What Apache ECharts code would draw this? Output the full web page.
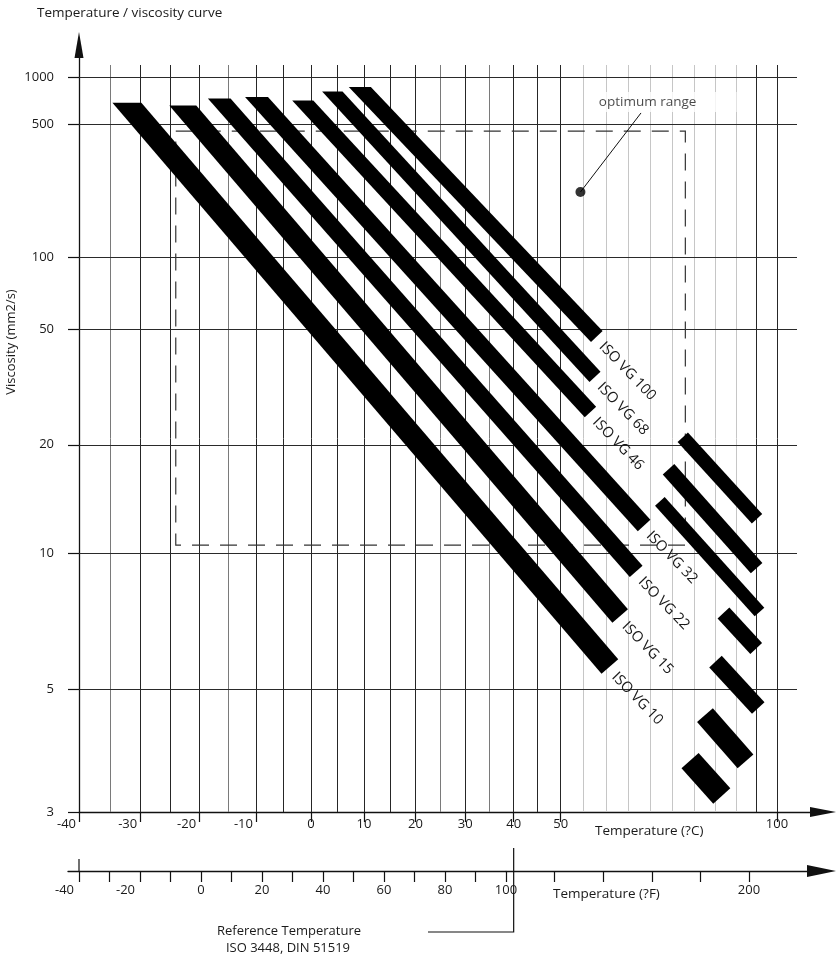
<!DOCTYPE html>
<html>
<head>
<meta charset="utf-8">
<title>Temperature / viscosity curve</title>
<script src="https://cdn.jsdelivr.net/npm/echarts@6.0.0/dist/echarts.min.js"></script>
<style>
  html, body { margin: 0; padding: 0; background: #fff; }
  #chart { width: 836px; height: 956px; }
</style>
</head>
<body>
<div id="chart"></div>
<script>
// ---- data ----
var grades = ['ISO VG 10', 'ISO VG 15', 'ISO VG 22', 'ISO VG 32', 'ISO VG 46', 'ISO VG 68', 'ISO VG 100'];

// long part of every line: temperature (C) and viscosity (mm2/s) at both ends
var mainStartT = [-32.2, -22.8, -16.5, -9.9, -1.5, 4.0, 9.2];
var mainStartV = [680, 652, 723, 739, 702, 802, 858];
var mainEndT = [60.8, 63.1, 66.7, 68.5, 56.5, 57.5, 57.9];
var mainEndV = [5.55, 7.12, 9.04, 11.8, 25.4, 33.4, 47.0];

// short pieces on the hot side, right of the labels
var hotStartT = [79.1, 82.6, 85.1, 87.0, 72.1, 74.1, 77.4];
var hotStartV = [3.67, 4.45, 5.68, 7.23, 13.7, 16.9, 21.1];
var hotEndT = [86.6, 92.3, 95.4, 94.9, 95.7, 95.0, 95.1];
var hotEndV = [3.19, 3.66, 4.59, 6.05, 7.27, 9.21, 12.3];

// optimum range box
var optTemp = [-24, 78];
var optVisc = [10.5, 455];
var optDot = [54.3, 208];

// axes
var viscTicks = [3, 5, 10, 20, 50, 100, 500, 1000];
var celsiusLabels = [-40, -30, -20, -10, 0, 10, 20, 30, 40, 50, 100];
var celsiusGrid = [-35, -30, -25, -20, -15, -10, -5, 0, 5, 10, 15, 20, 25, 30, 35, 40, 45, 50,
  55, 60, 65, 70, 75, 80, 85, 90, 95, 100];
var fahrLowTicks = [-40, -30, -20, -10, 0, 10, 20, 30, 40, 50, 60, 70, 80, 90, 100];
var fahrLowLabels = [-40, -20, 0, 20, 40, 60, 80, 100];
var fahrHighTicks = [120, 140, 160, 180, 200];
var fahrHighLabels = [200];
var refTemp = 40;

// ---- scales: log temperature on x, log-log viscosity on y ----
function tx(c) { return Math.log10(c + 300); }
function tc(x) { return Math.pow(10, x) - 300; }
function wv(v) { return Math.log10(Math.log10(v + 0.8)); }
function vw(w) { return Math.pow(10, Math.pow(10, w)) - 0.8; }

// ---- layout / style ----
var FONT = "'Open Sans', 'DejaVu Sans', sans-serif";
var INK = '#1a1a1a';
var TICK_FONT = 13;
var X0 = tx(-40), X1 = tx(100), XPX = (X1 - X0) / 698;
var Y0 = wv(3), Y1 = wv(1000), YPX = (Y1 - Y0) / 735;
var BAND_PX = [22, 20.5, 17, 17, 15.5, 15, 16];
var HOT_PX = [23, 21, 17, 16, 13, 15.5, 14];
var LABEL_GAP = 9;
var OPT_LINE_END = [67.8, 586];
var OPT_LABEL_AT = [69.3, 677];

function gridColor(t) {
  if (t > 50 && t < 95) return '#c6c6c6';
  if (t === -35 || t === -15 || t === 25 || t === 35) return '#7a7a7a';
  return '#262626';
}

var gridLines = [];
celsiusGrid.forEach(function (t) {
  gridLines.push({coords: [[tx(t), Y0], [tx(t), Y1 + 12 * YPX]], lineStyle: {color: gridColor(t)}});
});
viscTicks.slice(1).forEach(function (v) {
  gridLines.push({coords: [[X0, wv(v)], [X1 + 20 * XPX, wv(v)]], lineStyle: {color: '#2a2a2a'}});
});

var bandData = [];
grades.forEach(function (name, i) {
  bandData.push([tx(mainStartT[i]), wv(mainStartV[i]), tx(mainEndT[i]), wv(mainEndV[i]), i, 0]);
  bandData.push([tx(hotStartT[i]), wv(hotStartV[i]), tx(hotEndT[i]), wv(hotEndV[i]), i, 1]);
});

var optBox = [
  [tx(optTemp[0]), wv(optVisc[1])], [tx(optTemp[1]), wv(optVisc[1])],
  [tx(optTemp[1]), wv(optVisc[0])], [tx(optTemp[0]), wv(optVisc[0])],
  [tx(optTemp[0]), wv(optVisc[1])]
];

function renderBand(params, api) {
  var s = api.coord([api.value(0), api.value(1)]);
  var e = api.coord([api.value(2), api.value(3)]);
  var g = api.value(4), kind = api.value(5);
  var dx = e[0] - s[0], dy = e[1] - s[1];
  var len = Math.sqrt(dx * dx + dy * dy);
  var ux = dx / len, uy = dy / len;
  var hw = (kind === 0 ? BAND_PX[g] : HOT_PX[g]) / 2;
  var nx = -uy * hw, ny = ux * hw;
  var pts;
  if (kind === 0) {
    var hx = hw / uy; // cold end is cut level
    pts = [[s[0] - hx, s[1]], [s[0] + hx, s[1]], [e[0] - nx, e[1] - ny], [e[0] + nx, e[1] + ny]];
  } else {
    pts = [[s[0] + nx, s[1] + ny], [s[0] - nx, s[1] - ny], [e[0] - nx, e[1] - ny], [e[0] + nx, e[1] + ny]];
  }
  var children = [{type: 'polygon', shape: {points: pts}, style: {fill: '#000'}}];
  if (kind === 0) {
    children.push({
      type: 'text',
      x: e[0] + ux * LABEL_GAP - uy * 2,
      y: e[1] + uy * LABEL_GAP + ux * 2,
      rotation: -46 * Math.PI / 180,
      style: {
        text: grades[g], fill: INK, fontSize: 14.5, fontFamily: FONT,
        align: 'left', verticalAlign: 'middle'
      }
    });
  }
  return {type: 'group', children: children};
}

function negRich(pad) {
  return {neg: {padding: [0, pad, 0, 0], fontSize: TICK_FONT, fontFamily: FONT, color: INK}};
}

var option = {
  animation: false,
  backgroundColor: '#fff',
  grid: [
    {left: 79, right: 26, top: 58, bottom: 144, outerBoundsMode: 'none'},
    {left: 68, right: 330, top: 859, bottom: 85, outerBoundsMode: 'none'},
    {left: 506, right: 29, top: 859, bottom: 85, outerBoundsMode: 'none'}
  ],
  xAxis: [
    {
      type: 'value', gridIndex: 0, position: 'bottom', min: X0, max: X1 + 33 * XPX,
      axisLine: {show: true, onZero: false, lineStyle: {color: '#111', width: 1.3},
        symbol: ['none', 'triangle'], symbolSize: [10, 26], symbolOffset: [0, 13]},
      axisTick: {show: true, length: 10, customValues: celsiusLabels.map(tx),
        lineStyle: {color: '#111', width: 1.2}},
      axisLabel: {
        show: true, margin: 6, customValues: celsiusLabels.map(tx),
        fontSize: TICK_FONT, fontFamily: FONT, color: INK,
        formatter: function (val) {
          var t = Math.round(tc(val));
          return t < 0 ? '{neg|' + t + '}' : String(t);
        },
        rich: negRich(25)
      },
      splitLine: {show: false}
    },
    {
      type: 'value', gridIndex: 1, position: 'bottom', min: -40 - 110 / 30.5, max: 100,
      axisLine: {show: true, onZero: false, lineStyle: {color: '#111', width: 1.3}},
      axisTick: {show: true, length: 11, customValues: fahrLowTicks,
        lineStyle: {color: '#111', width: 1.2}},
      axisLabel: {
        show: true, margin: 13, customValues: fahrLowLabels,
        fontSize: TICK_FONT, fontFamily: FONT, color: INK,
        formatter: function (val) {
          var f = Math.round(val);
          return f < 0 ? '{neg|' + f + '}' : String(f);
        },
        rich: negRich(29)
      },
      splitLine: {show: false}
    },
    {
      type: 'value', gridIndex: 2, position: 'bottom', min: 100, max: 100 + 301 / 2.43,
      axisLine: {show: true, onZero: false, lineStyle: {color: '#111', width: 1.3},
        symbol: ['none', 'triangle'], symbolSize: [12, 29], symbolOffset: [0, 14.5]},
      axisTick: {show: true, length: 11, customValues: fahrHighTicks,
        lineStyle: {color: '#111', width: 1.2}},
      axisLabel: {
        show: true, margin: 13, customValues: fahrHighLabels,
        fontSize: TICK_FONT, fontFamily: FONT, color: INK
      },
      splitLine: {show: false}
    }
  ],
  yAxis: [
    {
      type: 'value', gridIndex: 0, position: 'left', min: Y0, max: Y1 + 19 * YPX,
      axisLine: {show: true, onZero: false, lineStyle: {color: '#111', width: 1.3},
        symbol: ['none', 'triangle'], symbolSize: [9, 26], symbolOffset: [0, 13]},
      axisTick: {show: true, length: 11, customValues: viscTicks.map(wv),
        lineStyle: {color: '#111', width: 1.2}},
      axisLabel: {
        show: true, margin: 25, customValues: viscTicks.map(wv),
        fontSize: TICK_FONT, fontFamily: FONT, color: INK,
        formatter: function (val) { return String(Math.round(vw(val))); }
      },
      splitLine: {show: false}
    },
    {type: 'value', gridIndex: 1, show: false, min: 0, max: 1},
    {type: 'value', gridIndex: 2, show: false, min: 0, max: 1}
  ],
  series: [
    {
      name: 'grid', type: 'lines', coordinateSystem: 'cartesian2d', silent: true, z: 1,
      lineStyle: {width: 1, opacity: 1},
      data: gridLines
    },
    {
      name: 'optimum', type: 'lines', coordinateSystem: 'cartesian2d', polyline: true, silent: true, z: 2,
      lineStyle: {color: '#333', width: 1.2, opacity: 1, type: [17, 11]},
      data: [{coords: optBox}]
    },
    {
      name: 'bands', type: 'custom', coordinateSystem: 'cartesian2d', z: 3,
      renderItem: renderBand,
      encode: {x: [0, 2], y: [1, 3]},
      data: bandData
    },
    {
      name: 'callout', type: 'lines', coordinateSystem: 'cartesian2d', silent: true, z: 4,
      lineStyle: {color: '#111', width: 1, opacity: 1},
      data: [{coords: [[tx(optDot[0]), wv(optDot[1])], [tx(OPT_LINE_END[0]), wv(OPT_LINE_END[1])]]}]
    },
    {
      name: 'dot', type: 'scatter', coordinateSystem: 'cartesian2d', silent: true, z: 5,
      symbol: 'circle', symbolSize: 10, itemStyle: {color: '#000'},
      data: [[tx(optDot[0]), wv(optDot[1])]]
    },
    {
      name: 'optLabel', type: 'scatter', coordinateSystem: 'cartesian2d', silent: true, z: 5,
      symbol: 'rect', symbolSize: [144, 20], symbolOffset: [17, -1],
      itemStyle: {color: '#fff'},
      label: {show: true, position: 'inside', offset: [-17, 0], formatter: 'optimum range',
        fontSize: 13.5, fontFamily: FONT, color: INK},
      data: [[tx(OPT_LABEL_AT[0]), wv(OPT_LABEL_AT[1])]]
    }
  ],
  graphic: [
    {id: 'title', type: 'text', x: 37, y: 13,
      style: {text: 'Temperature / viscosity curve', fill: INK, fontSize: 13.5, fontFamily: FONT,
        align: 'left', verticalAlign: 'middle'}},
    {id: 'yname', type: 'text', x: 11, y: 342, rotation: Math.PI / 2,
      style: {text: 'Viscosity (mm2/s)', fill: INK, fontSize: 13, fontFamily: FONT,
        align: 'center', verticalAlign: 'middle'}},
    {id: 'cname', type: 'text', x: 595, y: 831,
      style: {text: 'Temperature (?C)', fill: INK, fontSize: 13.5, fontFamily: FONT,
        align: 'left', verticalAlign: 'middle'}},
    {id: 'fname', type: 'text', x: 553, y: 894,
      style: {text: 'Temperature (?F)', fill: INK, fontSize: 13.5, fontFamily: FONT,
        align: 'left', verticalAlign: 'middle'}},
    {id: 'ref1', type: 'text', x: 289, y: 931,
      style: {text: 'Reference Temperature', fill: INK, fontSize: 13, fontFamily: FONT,
        align: 'center', verticalAlign: 'middle'}},
    {id: 'ref2', type: 'text', x: 288, y: 948,
      style: {text: 'ISO 3448, DIN 51519', fill: INK, fontSize: 13, fontFamily: FONT,
        align: 'center', verticalAlign: 'middle'}}
  ]
};

var myChart = echarts.init(document.getElementById('chart'));
myChart.setOption(option);

// reference temperature pointer and the -40 mark on the F scale
var rx = myChart.convertToPixel({xAxisIndex: 0}, tx(refTemp));
var fx = myChart.convertToPixel({xAxisIndex: 1}, -40);
myChart.setOption({
  graphic: [
    {id: 'refLine', type: 'polyline', shape: {points: [[rx, 848], [rx, 932], [428, 932]]},
      style: {stroke: '#111', lineWidth: 1.2, fill: null}},
    {id: 'fMark', type: 'line', shape: {x1: fx, y1: 859, x2: fx, y2: 871},
      style: {stroke: '#111', lineWidth: 1.2}}
  ]
});
</script>
</body>
</html>
